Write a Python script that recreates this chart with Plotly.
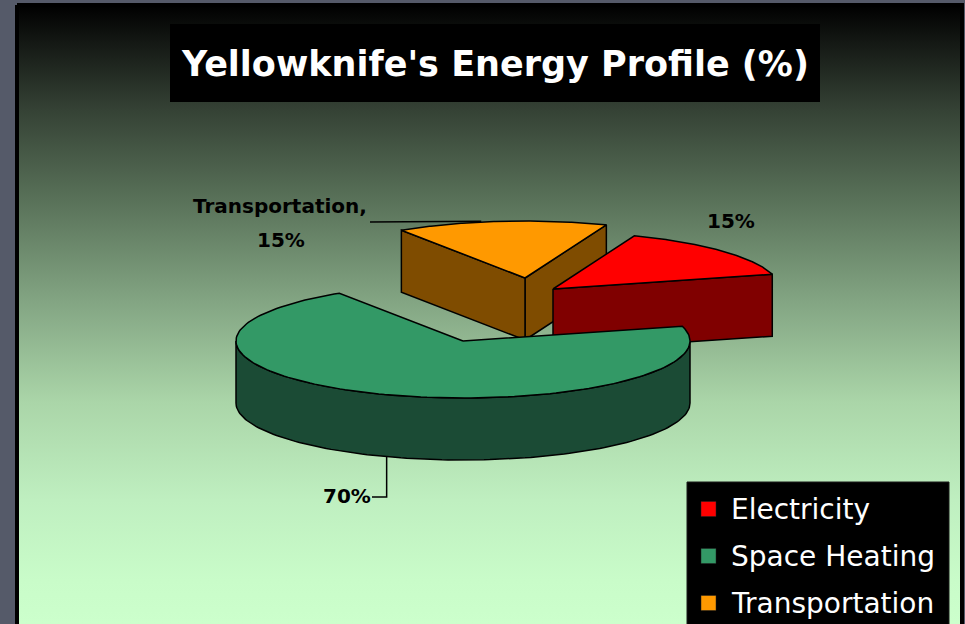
import numpy as np
import plotly.graph_objects as go

# ---------------- data ----------------
categories = ["Electricity", "Space Heating", "Transportation"]
values = [15, 70, 15]
title_text = "Yellowknife's Energy Profile (%)"

# ---------------- style ----------------
top_colors = ["#ff0000", "#339966", "#ff9900"]
side_colors = ["#800000", "#1b4b35", "#7f4c00"]

W, H = 965, 624
CX, CY, RX, RY, DEPTH = 463, 341, 227, 57, 62      # pie ellipse (pixel units)
START_DEG = 69                                      # first slice starts here, clockwise
EXPLODE = [(90, -52), (0, 0), (62, -63)]            # per-slice pull (pixels)
LABEL_POS = [(731, 221), (347, 496), (280, 206)]    # label anchors
LABEL_FONT = dict(family="DejaVu Sans", size=20, color="black", weight="bold")

fig = go.Figure()

# background: outer grey + gradient plot area
PX0, PY0, PX1, PY1 = 17, 5, 962, 626
fig.add_trace(go.Scatter(
    x=[PX0, PX1, PX1, PX0, PX0], y=[PY0, PY0, PY1, PY1, PY0],
    mode="lines", fill="toself",
    line=dict(color="#000000", width=4),
    fillgradient=dict(type="vertical", start=PY0, stop=H,
                      colorscale=[[0.0, "#000000"], [0.06, "#141814"], [0.17, "#354235"],
                                  [0.32, "#5a735a"], [0.48, "#83a583"], [0.64, "#aad5a8"],
                                  [0.80, "#bfefc0"], [0.93, "#c9fcc9"], [1.0, "#ccffcc"]]),
    hoverinfo="skip", showlegend=False))

total = float(sum(values))


def poly(xs, ys, fill):
    xs = list(xs) + [xs[0]]
    ys = list(ys) + [ys[0]]
    fig.add_trace(go.Scatter(x=xs, y=ys, mode="lines", fill="toself", fillcolor=fill,
                             line=dict(color="black", width=1.5),
                             hoverinfo="skip", showlegend=False))


def ex(t, ox):
    return CX + ox + RX * np.cos(np.radians(t))


def ey(t, oy, z=0.0):
    return CY + oy - RY * np.sin(np.radians(t)) + z


# slice angle intervals (CCW interval [a, b]) built clockwise from START_DEG
slices = []
cur = START_DEG
for i, v in enumerate(values):
    b = cur
    a = cur - v / total * 360.0
    cur = a
    slices.append((i, a, b))

# painter's order: back-most apex first
order = sorted(slices, key=lambda s: CY + EXPLODE[s[0]][1])

for i, a, b in order:
    ox, oy = EXPLODE[i]
    # cut faces
    for t, normal in ((a, a - 90), (b, b + 90)):
        if np.sin(np.radians(normal)) < 0:
            xs = [CX + ox, ex(t, ox), ex(t, ox), CX + ox]
            ys = [CY + oy, ey(t, oy), ey(t, oy, DEPTH), CY + oy + DEPTH]
            poly(xs, ys, side_colors[i])
    # outer wall (front half only)
    for k in range(-2, 3):
        lo, hi = max(a, -180 + 360 * k), min(b, 360 * k)
        if hi > lo:
            ts = np.linspace(lo, hi, 120)
            xs = list(ex(ts, ox)) + list(ex(ts[::-1], ox))
            ys = list(ey(ts, oy)) + list(ey(ts[::-1], oy, DEPTH))
            poly(xs, ys, side_colors[i])
    # top face
    ts = np.linspace(a, b, 160)
    xs = [CX + ox] + list(ex(ts, ox))
    ys = [CY + oy] + list(ey(ts, oy))
    poly(xs, ys, top_colors[i])

annotations = []
# data labels + leader lines
for i, a, b in slices:
    ox, oy = EXPLODE[i]
    mid = (a + b) / 2.0
    lx, ly = LABEL_POS[i]
    pct = f"{values[i]}%"
    if categories[i] == "Space Heating":
        sx, sy = ex(mid, ox) + 5, ey(mid, oy, DEPTH)
        fig.add_trace(go.Scatter(x=[sx, sx, lx + 25], y=[sy, ly + 1, ly + 1], mode="lines",
                                 line=dict(color="black", width=1.5),
                                 hoverinfo="skip", showlegend=False))
        annotations.append(dict(x=lx, y=ly, text=pct, showarrow=False, font=LABEL_FONT,
                                xanchor="center", yanchor="middle"))
    elif categories[i] == "Transportation":
        sx, sy = ex(mid, ox), ey(mid, oy)
        fig.add_trace(go.Scatter(x=[lx + 90, sx - 20], y=[ly + 16, sy], mode="lines",
                                 line=dict(color="black", width=1.5),
                                 hoverinfo="skip", showlegend=False))
        annotations.append(dict(x=lx, y=ly, text=categories[i] + ",", showarrow=False,
                                font=LABEL_FONT, xanchor="center", yanchor="middle"))
        annotations.append(dict(x=lx + 1, y=ly + 34, text=pct, showarrow=False,
                                font=LABEL_FONT, xanchor="center", yanchor="middle"))
    else:
        annotations.append(dict(x=lx, y=ly, text=pct, showarrow=False, font=LABEL_FONT,
                                xanchor="center", yanchor="middle"))

shapes = []
# title box
shapes.append(dict(type="rect", x0=170, x1=820, y0=24, y1=102, xref="x", yref="y",
                   fillcolor="black", line=dict(width=0), layer="above"))
annotations.append(dict(x=495, y=64, text=title_text, showarrow=False,
                        font=dict(family="DejaVu Sans", size=35, color="white", weight="bold"),
                        xanchor="center", yanchor="middle"))

# legend box
shapes.append(dict(type="rect", x0=687, x1=949, y0=482, y1=640, xref="x", yref="y",
                   fillcolor="black", line=dict(color="#1a1a1a", width=1), layer="above"))
for k, name in enumerate(categories):
    yc = 509 + 47 * k
    shapes.append(dict(type="rect", x0=701, x1=716, y0=yc - 7.5, y1=yc + 7.5,
                       xref="x", yref="y", fillcolor=top_colors[k],
                       line=dict(color="#222222", width=0.5), layer="above"))
    annotations.append(dict(x=729, y=yc, text=name, showarrow=False,
                            font=dict(family="DejaVu Sans", size=28, color="white"),
                            xanchor="left", yanchor="middle"))

fig.update_layout(
    width=W, height=H, autosize=False,
    margin=dict(l=0, r=0, t=0, b=0, pad=0),
    paper_bgcolor="#555a69", plot_bgcolor="rgba(0,0,0,0)",
    xaxis=dict(range=[0, W], visible=False, fixedrange=True),
    yaxis=dict(range=[H, 0], visible=False, fixedrange=True),
    shapes=shapes, annotations=annotations, showlegend=False,
)

fig.write_html("out.html", config={"displayModeBar": False, "staticPlot": True},
               post_script="document.body.style.margin='0';document.body.style.overflow='hidden';")
